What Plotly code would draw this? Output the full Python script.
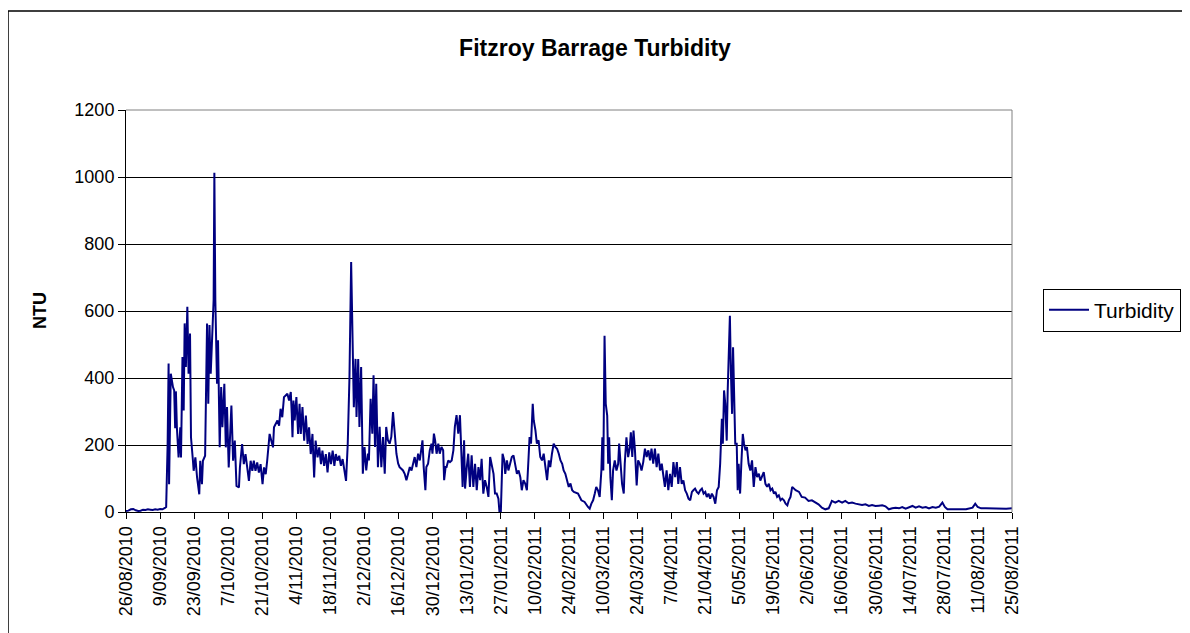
import datetime as dt
import plotly.graph_objects as go

# ---------------- data ----------------
start_date = dt.datetime(2010, 8, 26)

# days since 26/08/2010
day_offset = [
    0, 1, 2, 3, 4, 5, 6, 7, 8, 9, 10, 11, 12, 13, 14, 15, 16, 16.5,
    17.1, 17.5, 17.7, 18.2, 18.4, 19.3, 19.8, 20.2, 20.5, 20.9, 21.6, 22.3, 22.6, 23.2, 23.7, 24.1,
    24.6, 25.2, 25.7, 26.3, 26.7, 27.5, 27.8, 28.5, 29.2, 30.1, 30.5, 31.2, 31.6, 32.5, 33.3, 33.8,
    34.3, 34.8, 35.5, 36.0, 36.3, 36.7, 37.4, 37.8, 38.5, 39.1, 39.6, 40.4, 41.0, 41.5, 42.2, 43.3,
    44.0, 44.7, 45.4, 46.4, 46.8, 47.7, 48.4, 49.1, 49.8, 50.5, 51.2, 51.9, 52.5, 53.2, 53.9, 54.6,
    55.3, 56.1, 56.7, 57.4, 58.0, 59.0, 59.7, 60.4, 60.8, 61.5, 62.2, 62.9, 63.5, 64.2, 64.9, 65.6,
    66.3, 67.0, 67.7, 68.1, 68.4, 68.8, 69.3, 70.0, 70.7, 71.3, 71.8, 72.5, 73.2, 73.9, 74.6, 75.2,
    75.9, 76.6, 77.3, 77.9, 78.7, 79.4, 80.1, 80.7, 81.4, 82.1, 82.8, 83.5, 84.2, 84.9, 85.6, 86.2,
    86.9, 87.6, 88.3, 89.0, 89.7, 90.4, 91.1, 91.8, 92.5, 93.2, 93.6, 94.3, 94.7, 95.4, 95.9, 96.6,
    97.3, 98.0, 98.7, 99.4, 99.8, 100.5, 101.2, 101.7, 102.3, 102.8, 103.5, 104.2, 104.9, 105.6, 106.3, 106.9,
    107.6, 108.3, 109.0, 109.7, 110.4, 111.1, 111.8, 112.4, 113.1, 113.8, 114.5, 115.2, 115.9, 116.6, 117.3, 117.9,
    118.6, 119.3, 120.0, 120.7, 121.4, 121.8, 122.3, 123.0, 123.4, 124.1, 124.8, 125.5, 125.9, 126.5, 127.0, 127.6,
    128.3, 128.9, 129.6, 130.3, 130.7, 131.3, 131.7, 132.4, 133.1, 133.8, 134.5, 135.1, 135.8, 136.5, 137.2, 137.9,
    138.3, 138.9, 139.3, 140.0, 140.6, 141.3, 142.0, 142.7, 143.4, 144.1, 144.8, 145.5, 146.1, 146.8, 147.5, 148.2,
    148.9, 149.6, 150.3, 151.0, 151.6, 152.3, 153.0, 153.4, 154.0, 154.7, 155.4, 155.8, 156.5, 157.1, 157.8, 158.5,
    159.2, 159.9, 160.6, 161.3, 162.0, 162.6, 163.3, 164.0, 164.7, 165.4, 165.8, 166.4, 167.1, 167.5, 168.2, 168.8,
    169.5, 170.2, 170.9, 171.6, 172.3, 173.0, 173.7, 174.3, 175.0, 175.7, 176.4, 177.1, 177.8, 178.5, 179.2, 179.8,
    180.5, 181.2, 181.9, 182.6, 183.3, 184.0, 185.7, 187.1, 188.4, 189.8, 190.5, 191.2, 191.9, 192.6, 193.2, 193.9,
    194.6, 195.3, 195.7, 196.1, 196.6, 197.1, 197.7, 198.1, 198.5, 199.0, 199.6, 200.1, 200.8, 201.5, 202.2, 202.6,
    203.2, 203.8, 204.5, 204.9, 205.6, 206.3, 207.0, 207.4, 208.0, 208.5, 209.1, 209.8, 210.4, 211.1, 211.8, 212.5,
    213.2, 213.9, 214.6, 215.3, 215.9, 216.6, 217.3, 218.0, 218.7, 219.4, 220.1, 220.8, 221.4, 222.1, 222.8, 223.5,
    224.2, 224.9, 225.6, 226.3, 226.9, 227.6, 228.3, 229.0, 229.7, 230.4, 231.1, 231.8, 232.5, 233.1, 233.8, 234.5,
    235.2, 235.9, 236.6, 237.3, 238.0, 238.6, 239.3, 240.0, 240.7, 241.4, 242.1, 242.8, 243.5, 244.1, 244.8, 245.2,
    245.7, 246.2, 246.8, 247.2, 247.6, 248.1, 248.5, 249.0, 249.4, 249.9, 250.3, 250.9, 251.3, 251.7, 252.3, 252.8,
    253.4, 253.9, 254.5, 255.1, 255.8, 256.5, 257.2, 257.9, 258.6, 259.3, 260.0, 260.6, 261.3, 262.0, 262.7, 263.4,
    264.1, 264.8, 265.5, 266.2, 266.8, 267.5, 268.2, 268.9, 269.6, 270.3, 271.0, 271.7, 272.3, 273.0, 273.7, 274.4,
    275.1, 276.5, 277.6, 279.0, 280.4, 281.8, 283.2, 284.5, 285.9, 287.3, 288.7, 289.4, 290.0, 291.4, 292.8, 294.2,
    295.5, 296.9, 298.3, 299.7, 301.0, 302.4, 303.8, 305.2, 306.5, 307.9, 309.3, 310.7, 312.0, 313.4, 314.8, 316.2,
    317.6, 318.9, 320.3, 321.7, 323.1, 324.4, 325.8, 327.2, 328.6, 329.9, 331.3, 332.7, 334.1, 335.4, 336.4, 337.5,
    339.6, 342.3, 345.1, 347.8, 348.9, 349.9, 351.3, 353.3, 356.1, 358.8, 361.6, 364.0,
]

ntu = [
    3, 4, 8, 9, 5, 3, 4, 7, 6, 8, 7, 6, 8, 7, 9, 8, 12, 15,
    200, 443, 83, 250, 413, 373, 363, 250, 360, 253, 163, 253, 163, 463, 303, 563,
    433, 613, 413, 533, 223, 153, 123, 163, 103, 53, 153, 83, 153, 168, 563, 323,
    558, 413, 553, 633, 1013, 633, 383, 513, 193, 373, 253, 383, 193, 313, 133, 318,
    153, 213, 78, 73, 133, 203, 143, 173, 133, 93, 153, 123, 153, 123, 148, 118,
    143, 83, 133, 113, 153, 233, 213, 193, 253, 263, 273, 258, 308, 283, 343, 348,
    353, 333, 358, 293, 223, 333, 273, 343, 233, 323, 233, 313, 213, 288, 203, 253,
    173, 233, 103, 213, 163, 193, 143, 183, 138, 173, 118, 178, 143, 183, 138, 173,
    153, 168, 138, 158, 128, 93, 203, 400, 746, 512, 313, 457, 284, 457, 254, 433,
    114, 194, 124, 174, 154, 338, 234, 408, 194, 383, 134, 254, 134, 224, 114, 254,
    214, 204, 224, 298, 234, 174, 145, 134, 129, 124, 114, 95, 114, 134, 124, 144,
    164, 134, 174, 154, 189, 214, 134, 65, 134, 144, 184, 204, 174, 234, 214, 174,
    204, 174, 194, 184, 95, 134, 134, 154, 149, 154, 184, 254, 289, 234, 289, 164,
    75, 214, 70, 134, 174, 75, 169, 75, 144, 65, 134, 95, 159, 55, 95, 75,
    45, 164, 134, 114, 55, 55, 40, 3, 3, 174, 154, 114, 154, 124, 144, 164,
    169, 144, 114, 124, 104, 65, 95, 85, 65, 164, 224, 204, 323, 274, 244, 204,
    214, 164, 154, 174, 134, 95, 154, 134, 174, 204, 194, 189, 174, 154, 144, 124,
    114, 95, 75, 85, 65, 60, 55, 35, 30, 15, 10, 25, 35, 55, 75, 65,
    45, 124, 223, 124, 526, 323, 288, 144, 223, 104, 35, 124, 154, 124, 144, 204,
    124, 84, 55, 144, 223, 164, 194, 238, 164, 243, 184, 79, 154, 144, 124, 149,
    189, 164, 184, 154, 189, 144, 189, 134, 174, 124, 144, 114, 75, 124, 65, 114,
    75, 149, 104, 149, 84, 134, 84, 94, 65, 55, 40, 35, 60, 65, 70, 60,
    55, 65, 70, 55, 60, 45, 55, 40, 55, 45, 25, 65, 75, 144, 278, 204,
    363, 323, 213, 363, 442, 586, 422, 293, 492, 333, 204, 204, 65, 144, 55, 144,
    233, 204, 184, 194, 144, 124, 154, 75, 134, 104, 114, 94, 109, 119, 84, 75,
    84, 65, 70, 55, 60, 45, 50, 35, 40, 35, 25, 20, 35, 45, 75, 70,
    65, 60, 45, 43, 33, 35, 28, 23, 13, 8, 11, 23, 33, 28, 33, 28,
    33, 26, 28, 25, 23, 21, 23, 18, 21, 18, 19, 20, 17, 8, 11, 13,
    11, 15, 10, 15, 18, 13, 17, 13, 15, 11, 15, 13, 16, 28, 15, 8,
    8, 8, 8, 13, 25, 15, 11, 11, 10, 9, 10, 11,
]

series_name = "Turbidity"
chart_title = "Fitzroy Barrage Turbidity"
y_title = "NTU"
y_ticks = [0, 200, 400, 600, 800, 1000, 1200]
x_range = ["2010-08-26", "2011-08-25"]

dates = [start_date + dt.timedelta(days=d) for d in day_offset]

# ---------------- figure ----------------
FONT = "Liberation Sans, Arial, sans-serif"
OFF = 8  # page body margin of the html page
W, H = 1190 - OFF, 633 - OFF
# plot area in page pixels
L, R, T, B = 126, 1012, 110, 512


def px_x(p):
    return (p - L) / (R - L)


def px_y(p):
    return (B - p) / (B - T)


fig = go.Figure()
fig.add_trace(go.Scatter(
    x=dates, y=ntu, mode="lines", name=series_name,
    line=dict(color="#000080", width=2),
))

fig.update_layout(
    width=W, height=H,
    margin=dict(l=L - OFF, r=1190 - R, t=T - OFF, b=633 - B, autoexpand=False),
    paper_bgcolor="white", plot_bgcolor="white",
    font=dict(family=FONT, color="black", size=18),
    title=dict(text="<b>" + chart_title + "</b>", x=px_x(595), xref="paper",
               y=1 - (48 - OFF) / H, yref="container", xanchor="center", yanchor="middle",
               font=dict(family=FONT, size=23, color="black")),
    showlegend=True,
    legend=dict(x=px_x(1043), xanchor="left", y=px_y(310), yanchor="middle",
                bordercolor="black", borderwidth=1, bgcolor="white", itemwidth=40,
                font=dict(family=FONT, size=21, color="black")),
    xaxis=dict(
        type="date", range=x_range, tick0=x_range[0], dtick=14 * 86400000,
        tickformat="%-d/%m/%Y", tickangle=-90, ticks="outside", ticklen=6,
        tickcolor="black", showline=True, linecolor="black", linewidth=1,
        showgrid=False, zeroline=False, automargin=False,
        tickfont=dict(family=FONT, size=18, color="black"),
    ),
    yaxis=dict(
        range=[0, 1200], tickvals=y_ticks, ticks="outside", ticklen=7,
        tickcolor="black", showline=True, linecolor="black", linewidth=1,
        showgrid=True, gridcolor="black", gridwidth=1, zeroline=False,
        automargin=False, tickfont=dict(family=FONT, size=18, color="black"),
    ),
    annotations=[dict(
        text="<b>" + y_title + "</b>", textangle=-90, x=px_x(40), y=px_y(311),
        xref="paper", yref="paper", showarrow=False, xanchor="center", yanchor="middle",
        font=dict(family=FONT, size=18, color="black"),
    )],
    shapes=[
        # plot area border (top and right, grey)
        dict(type="line", xref="paper", yref="paper", x0=0, x1=1, y0=1, y1=1,
             line=dict(color="#808080", width=1)),
        dict(type="line", xref="paper", yref="paper", x0=1, x1=1, y0=0, y1=1,
             line=dict(color="#808080", width=1)),
        # chart area border
        dict(type="rect", xref="paper", yref="paper",
             x0=px_x(8), x1=px_x(1195), y0=px_y(640), y1=px_y(11),
             line=dict(color="black", width=1.5), layer="below"),
    ],
)

fig.write_html("out.html")
